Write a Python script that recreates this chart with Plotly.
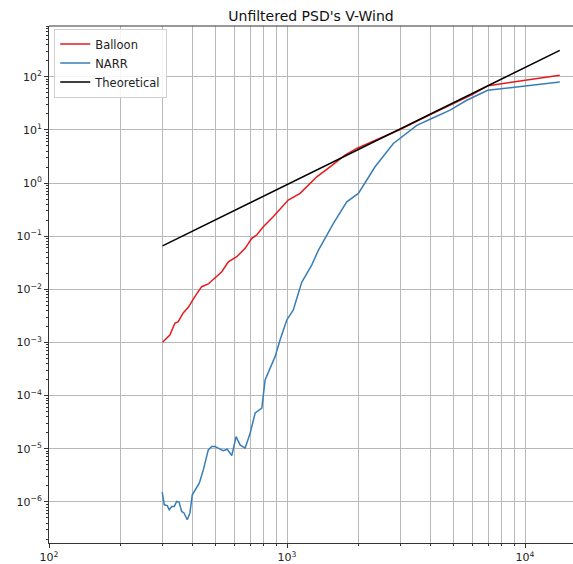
import plotly.graph_objects as go

# Balloon PSD (red)
balloon_x = [300, 322, 338, 349, 367, 385, 410, 438, 467, 507, 532, 567, 615, 667,
             711, 746, 795, 875, 950, 1012, 1135, 1334, 1517, 1753, 1963, 2400,
             3000, 4000, 5000, 6000, 7000, 14000]
balloon_y = [0.00101, 0.00138, 0.0023, 0.00246, 0.00363, 0.00459, 0.00726, 0.0112,
             0.0126, 0.0178, 0.0214, 0.033, 0.041, 0.059, 0.091, 0.105, 0.150, 0.232,
             0.357, 0.477, 0.638, 1.31, 2.02, 3.35, 4.47, 6.7, 10.3, 19.5, 31.5, 46,
             68, 107]

# NARR PSD (blue)
narr_x = [299, 305, 314, 320, 328, 336, 344, 352, 361, 369, 381, 391, 400, 418, 428,
          445, 467, 483, 498, 514, 540, 561, 586, 611, 635, 667, 700, 735, 784, 809,
          835, 891, 935, 998, 1063, 1153, 1270, 1356, 1567, 1783, 1995, 2344, 2799,
          3510, 4055, 4845, 5690, 6970, 14000]
narr_y = [1.53e-6, 8.8e-7, 8.5e-7, 7.1e-7, 8.2e-7, 8.2e-7, 1.02e-6, 9.9e-7, 6.6e-7,
          6.2e-7, 4.6e-7, 6.2e-7, 1.36e-6, 1.95e-6, 2.25e-6, 4.0e-6, 9.5e-6, 1.1e-5,
          1.1e-5, 1.03e-5, 9.2e-6, 9.8e-6, 7.4e-6, 1.69e-5, 1.18e-5, 1.03e-5, 1.96e-5,
          4.7e-5, 5.8e-5, 1.97e-4, 2.8e-4, 5.4e-4, 1.11e-3, 2.65e-3, 4.1e-3, 0.0135,
          0.0286, 0.0548, 0.174, 0.444, 0.638, 2.02, 5.55, 12.2, 16.4, 23.5, 36.1,
          55.7, 80]

# Theoretical power law (straight line in log-log between its end points)
theo_x = [300, 14000]
theo_y = [0.0657, 314]

x_tick_vals = [100, 1000, 10000]
x_tick_text = ["10<sup>2</sup>", "10<sup>3</sup>", "10<sup>4</sup>"]
y_tick_vals = [1e-6, 1e-5, 1e-4, 1e-3, 1e-2, 1e-1, 1, 10, 100]
y_tick_text = ["10<sup>\u22126</sup>", "10<sup>\u22125</sup>", "10<sup>\u22124</sup>",
               "10<sup>\u22123</sup>", "10<sup>\u22122</sup>", "10<sup>\u22121</sup>",
               "10<sup>0</sup>", "10<sup>1</sup>", "10<sup>2</sup>"]

fig = go.Figure()
fig.add_trace(go.Scatter(x=balloon_x, y=balloon_y, mode="lines", name="Balloon",
                         line=dict(color="#e41a1c", width=1.5)))
fig.add_trace(go.Scatter(x=narr_x, y=narr_y, mode="lines", name="NARR",
                         line=dict(color="#377eb8", width=1.5)))
fig.add_trace(go.Scatter(x=theo_x, y=theo_y, mode="lines", name="Theoretical",
                         line=dict(color="black", width=1.5)))

grid_col = "#b8b8b8"
fig.update_layout(
    width=573, height=564,
    margin=dict(l=49, r=0, t=26, b=21),
    paper_bgcolor="white", plot_bgcolor="white",
    font=dict(family="DejaVu Sans", size=11, color="#222"),
    title=dict(text="Unfiltered PSD's V-Wind", x=0.5, xref="paper",
               y=1, yref="paper", yanchor="bottom", pad=dict(b=5),
               font=dict(size=14, color="#111")),
    showlegend=True,
    legend=dict(x=0.01, y=0.995, xanchor="left", yanchor="top",
                bgcolor="rgba(255,255,255,0.85)", bordercolor="#d0d0d0",
                borderwidth=1, font=dict(size=11.5), itemwidth=30,
                tracegroupgap=0),
    xaxis=dict(type="log", range=[2, 4.2017], tickvals=x_tick_vals,
               ticktext=x_tick_text, ticks="outside", ticklen=4, tickcolor="#333",
               showline=True, linecolor="#333", linewidth=1, mirror=False,
               showgrid=True, gridcolor=grid_col, gridwidth=1, zeroline=False,
               minor=dict(dtick="D1", ticks="outside", ticklen=2, tickcolor="#333",
                          showgrid=True, gridcolor=grid_col, gridwidth=1)),
    yaxis=dict(type="log", range=[-6.774, 2.955], tickvals=y_tick_vals,
               ticktext=y_tick_text, ticks="outside", ticklen=4, tickcolor="#333",
               showline=True, linecolor="#333", linewidth=1, mirror=False,
               showgrid=True, gridcolor=grid_col, gridwidth=1, zeroline=False,
               minor=dict(dtick="D1", ticks="outside", ticklen=2, tickcolor="#333",
                          showgrid=False)),
)

# top frame line of the axes
fig.add_shape(type="line", xref="paper", yref="paper", x0=0, x1=1, y0=1, y1=1,
              line=dict(color="#333", width=1))

fig.write_html("out.html")
